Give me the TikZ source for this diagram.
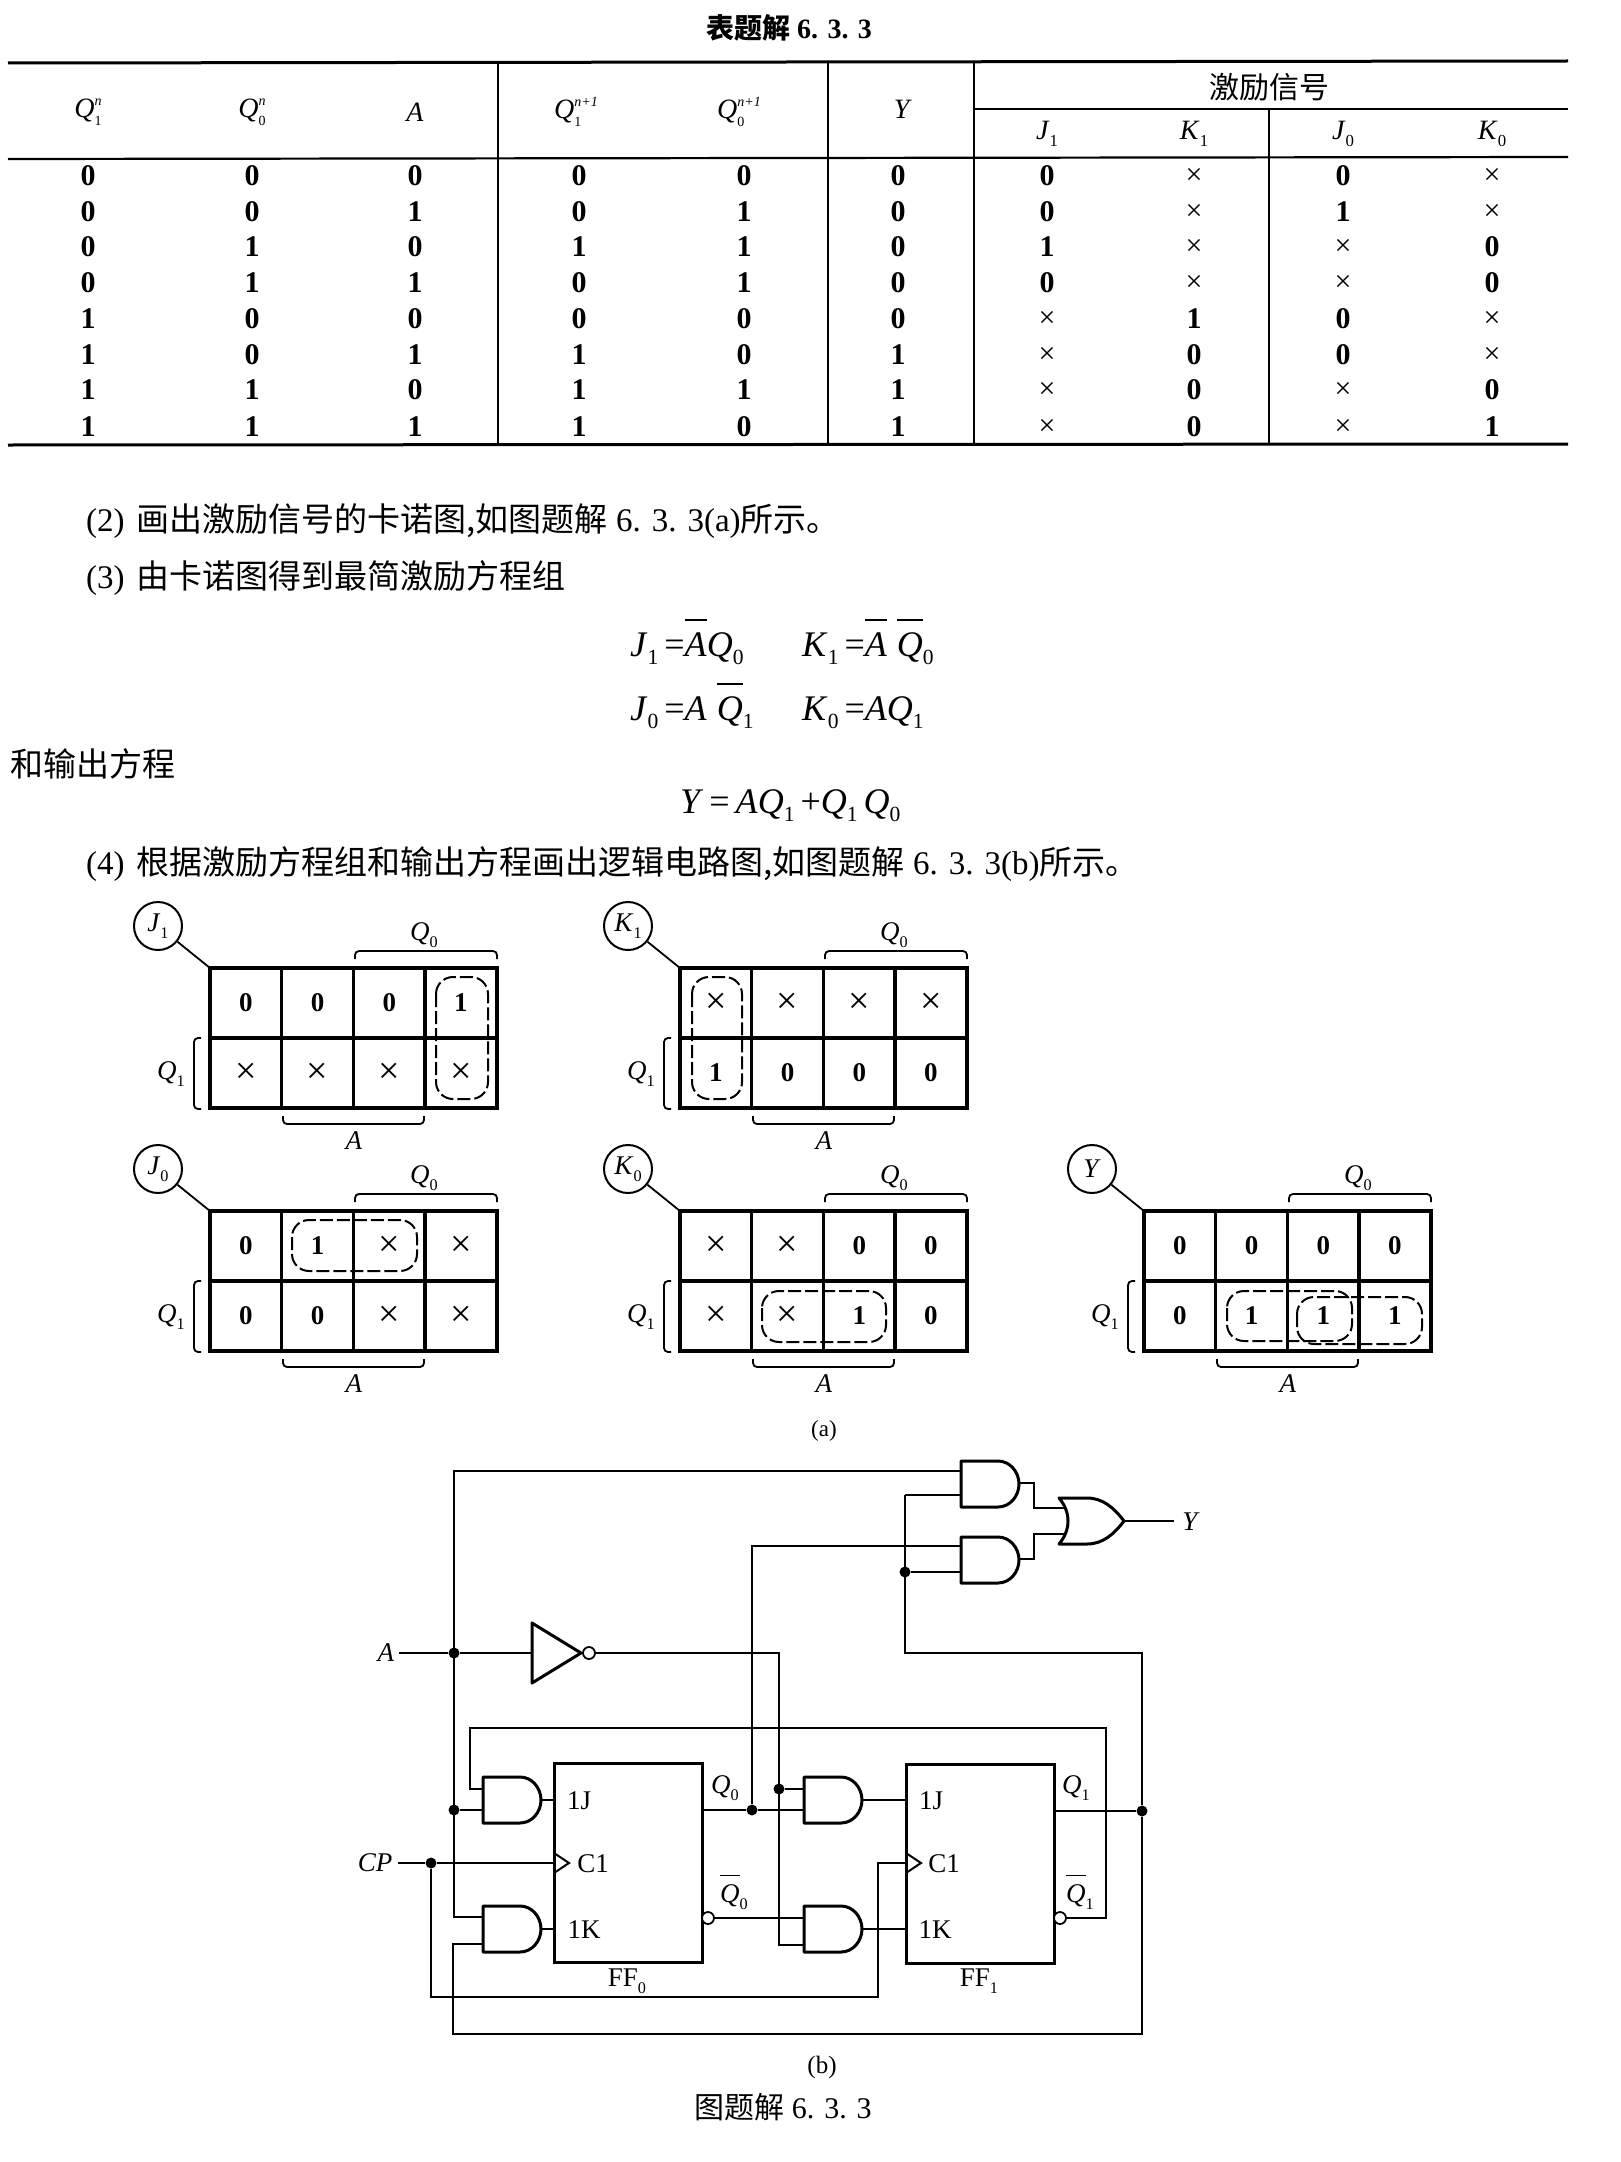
\documentclass[tikz,border=0pt]{standalone}
\usepackage{fontspec}
\usepackage{graphicx}
\setmainfont{Liberation Serif}
\newfontfamily\cjk{Noto Sans CJK SC}
\newcommand\VarSub[2]{\textit{#1}\raisebox{-.24em}{\scalebox{.6}{#2}}}
\newcommand\VarSS[3]{\textit{#1}\makebox[0pt][l]{\raisebox{.42em}{\scalebox{.5}{\textit{#3}}}}\raisebox{-.28em}{\scalebox{.5}{#2}}}
\newcommand\OLine[1]{\leavevmode\setbox0\hbox{#1}\makebox[0pt][l]{\raisebox{.98em}{\rule{\wd0}{.05em}}}\box0}
\newcommand\CellText{\if x\val\fontsize{38}{38}\selectfont ×\else\bfseries\val\fi}
\newcommand\TabText{\if x\val\fontsize{30}{30}\selectfont ×\else\fontsize{30}{30}\selectfont\bfseries\val\fi}
\tikzset{
 wire/.style={line width=1.8pt,line join=miter},
 gateline/.style={line width=3pt,line join=round},
 kgrid/.style={line width=3.4pt},
 kbrace/.style={line width=1.8pt,rounded corners=4pt},
 loopdash/.style={line width=2pt,dash pattern=on 13pt off 4pt,rounded corners=17pt},
 dotn/.style={circle,fill=black,inner sep=0pt,minimum size=11pt},
 bub/.style={circle,draw,line width=1.8pt,fill=white,inner sep=0pt,minimum size=12pt},
 ffbox/.style={rectangle,draw,line width=3pt,inner sep=0pt},
 lab/.style={inner sep=0pt,font=\fontsize{27}{30}\selectfont},
 body/.style={inner sep=0pt,font=\fontsize{33}{36}\selectfont},
 eq/.style={inner sep=0pt,font=\fontsize{36}{40}\selectfont,anchor=base west},
 thickrule/.style={line width=3pt},
 midrule/.style={line width=2.2pt},
 thinrule/.style={line width=1.3pt},
 head/.style={inner sep=0pt,font=\fontsize{28}{30}\selectfont},
}
\newcommand\AndGate[6]{%
 \draw[gateline] (#2,#3) -- (#2+37,#3) .. controls (#2+49,#3) and (#2+58,#3+11) .. (#2+58,#3+23)
   .. controls (#2+58,#3+35) and (#2+49,#3+46) .. (#2+37,#3+46) -- (#2,#3+46) -- cycle;
 \coordinate (#1-a) at (#2,#4);
 \coordinate (#1-b) at (#2,#5);
 \coordinate (#1-o) at (#2+58,#6);
}
\newcommand\Kmap[5]{%
 \draw[kgrid] (#2,#3) rectangle (#2+287,#3+140);
 \draw[kgrid] (#2,#3+70) -- (#2+287,#3+70);
 \foreach \c in {1,2,3} \draw[kgrid] (#2+71.7*\c,#3) -- (#2+71.7*\c,#3+140);
 \node[lab,circle,draw,line width=2pt,minimum size=48pt] (#1c) at (#2-52,#3-42) {#4};
 \coordinate (#1k) at (#2,#3);
 \draw[wire] (#1c) -- (#1k);
 \draw[kbrace] (#2+145,#3-9) -- (#2+145,#3-17) -- (#2+287,#3-17) -- (#2+287,#3-9);
 \node[lab] (#1q) at (#2+214,#3-33) {\VarSub{Q}{0}};
 \draw[kbrace] (#2-9,#3+70) -- (#2-16,#3+70) -- (#2-16,#3+141) -- (#2-9,#3+141);
 \node[lab] (#1p) at (#2-39,#3+106) {\VarSub{Q}{1}};
 \draw[kbrace] (#2+73,#3+148) -- (#2+73,#3+156) -- (#2+214,#3+156) -- (#2+214,#3+148);
 \node[lab] (#1a) at (#2+144,#3+173) {\textit{A}};
 \foreach \val [count=\i from 0] in {#5} {
  \pgfmathtruncatemacro\cc{mod(\i,4)}
  \pgfmathtruncatemacro\rr{int(\i/4)}
  \node[lab] (#1v\i) at (#2+35.85+71.7*\cc,#3+35+70*\rr) {\CellText};
 }
}
\begin{document}
\begin{tikzpicture}[x=1pt,y=-1pt]
\useasboundingbox (0,0) rectangle (1620,2162);
% ---------- table
\node[inner sep=0pt,font=\fontsize{28}{30}\selectfont\bfseries] (title) at (789,28) {{\cjk 表题解} 6. 3. 3};
\draw[thickrule] (8,63) -- (1568,61);
\draw[midrule] (8,159) -- (1568,157);
\draw[thickrule] (8,445) -- (1568,444);
\draw[midrule] (974,109) -- (1568,109);
\draw[thinrule] (498,63) -- (498,444);
\draw[thinrule] (828,62) -- (828,444);
\draw[thinrule] (974,62) -- (974,444);
\draw[thinrule] (1269,109) -- (1269,444);
\node[head] (h1) at (88,112) {\VarSS{Q}{1}{n}};
\node[head] (h2) at (252,112) {\VarSS{Q}{0}{n}};
\node[head] (h3) at (415,112) {\textit{A}};
\node[head,anchor=west] (h4) at (554,112) {\VarSS{Q}{1}{n+1}};
\node[head,anchor=west] (h5) at (717,112) {\VarSS{Q}{0}{n+1}};
\node[head] (h6) at (903,109) {\textit{Y}};
\node[head,font=\fontsize{30}{32}\selectfont] (h7) at (1269,87) {\cjk 激励信号};
\node[head] (h8) at (1047,134) {\VarSub{J}{1}};
\node[head] (h9) at (1194,134) {\VarSub{K}{1}};
\node[head] (h10) at (1343,134) {\VarSub{J}{0}};
\node[head] (h11) at (1492,134) {\VarSub{K}{0}};
\foreach \row [count=\r from 0] in {
 {0,0,0,0,0,0,0,x,0,x},
 {0,0,1,0,1,0,0,x,1,x},
 {0,1,0,1,1,0,1,x,x,0},
 {0,1,1,0,1,0,0,x,x,0},
 {1,0,0,0,0,0,x,1,0,x},
 {1,0,1,1,0,1,x,0,0,x},
 {1,1,0,1,1,1,x,0,x,0},
 {1,1,1,1,0,1,x,0,x,1}} {
 \foreach \val [count=\c from 0] in \row {
  \pgfmathsetmacro\cx{{88,252,415,579,744,898,1047,1194,1343,1492}[\c]}
  \pgfmathsetmacro\ry{{176,212,247,283,319,355,390,427}[\r]}
  \node[inner sep=0pt] (t\r c\c) at (\cx,\ry) {\TabText};
 }
}
% ---------- body text
\node[body,anchor=west] (l2) at (86,521) {(2)\hspace{12pt}{\cjk 画出激励信号的卡诺图,如图题解} 6. 3. 3(a){\cjk 所示。}};
\node[body,anchor=west] (l3) at (86,578) {(3)\hspace{12pt}{\cjk 由卡诺图得到最简激励方程组}};
\node[eq] (e1) at (630,656) {\VarSub{J}{1}\,=\OLine{\textit{A}}\textit{Q}\raisebox{-.24em}{\scalebox{.6}{0}}};
\node[eq] (e2) at (802,656) {\VarSub{K}{1}\,=\OLine{\textit{A}}\hspace{10pt}\OLine{\textit{Q}}\raisebox{-.24em}{\scalebox{.6}{0}}};
\node[eq] (e3) at (630,720) {\VarSub{J}{0}\,=\textit{A}\hspace{10pt}\OLine{\textit{Q}}\raisebox{-.24em}{\scalebox{.6}{1}}};
\node[eq] (e4) at (802,720) {\VarSub{K}{0}\,=\textit{A}\VarSub{Q}{1}};
\node[body,anchor=west] (l5) at (10,764) {\cjk 和输出方程};
\node[eq] (e5) at (680,813) {\textit{Y}\,=\,\textit{A}\VarSub{Q}{1}\,+\VarSub{Q}{1}\,\VarSub{Q}{0}};
\node[body,anchor=west] (l4) at (86,864) {(4)\hspace{12pt}{\cjk 根据激励方程组和输出方程画出逻辑电路图,如图题解} 6. 3. 3(b){\cjk 所示。}};
% ---------- Karnaugh maps
\Kmap{mj}{210}{968}{\VarSub{J}{1}}{0,0,0,1,x,x,x,x}
\Kmap{mk}{680}{968}{\VarSub{K}{1}}{x,x,x,x,1,0,0,0}
\Kmap{nj}{210}{1211}{\VarSub{J}{0}}{0,1,x,x,0,0,x,x}
\Kmap{nk}{680}{1211}{\VarSub{K}{0}}{x,x,0,0,x,x,1,0}
\Kmap{ny}{1144}{1211}{\textit{Y}}{0,0,0,0,0,1,1,1}
\draw[loopdash] (436,977) rectangle (488,1099);
\draw[loopdash] (692,977) rectangle (742,1099);
\draw[loopdash] (292,1220) rectangle (417,1271);
\draw[loopdash] (762,1291) rectangle (886,1342);
\draw[loopdash] (1227,1291) rectangle (1352,1341);
\draw[loopdash] (1297,1297) rectangle (1422,1344);
\node[inner sep=0pt,font=\fontsize{23}{26}\selectfont] (capa) at (824,1431) {(a)};
% ---------- circuit: gates
\AndGate{g1}{961}{1461}{1471}{1495}{1483}
\AndGate{g2}{961}{1537}{1546}{1572}{1559}
\AndGate{g3}{483}{1777}{1789}{1810}{1800}
\AndGate{g4}{483}{1906}{1917}{1944}{1929}
\AndGate{g5}{804}{1777}{1789}{1810}{1800}
\AndGate{g6}{804}{1906}{1918}{1945}{1929}
\draw[gateline] (1059,1498) -- (1087,1498) .. controls (1103,1498) and (1114,1508) .. (1124,1521)
  .. controls (1114,1534) and (1103,1544) .. (1087,1544) -- (1059,1544)
  .. controls (1071,1530) and (1071,1512) .. cycle;
\coordinate (or-a) at (1065,1508);
\coordinate (or-b) at (1065,1534);
\coordinate (or-o) at (1124,1521);
% inverter
\draw[gateline] (532,1623) -- (581,1653) -- (532,1683) -- cycle;
\coordinate (inv-i) at (532,1653);
\node[bub] (invb) at (589,1653) {};
% flip-flops
\node[ffbox,minimum width=148pt,minimum height=199pt] (ff0) at (628,1862.5) {};
\node[ffbox,minimum width=148pt,minimum height=199pt] (ff1) at (980,1863.5) {};
\draw[wire,line width=2pt] (554,1853) -- (569,1863) -- (554,1873);
\draw[wire,line width=2pt] (906,1853) -- (921,1863) -- (906,1873);
\node[bub] (nq0) at (708,1918) {};
\node[bub] (nq1) at (1060,1918) {};
\node[lab] (j0) at (579,1801) {1J};
\node[lab] (c0) at (593,1864) {C1};
\node[lab] (k0) at (584,1930) {1K};
\node[lab] (j1) at (931,1801) {1J};
\node[lab] (c1) at (944,1864) {C1};
\node[lab] (k1) at (935,1930) {1K};
\node[lab] (qa) at (725,1788) {\VarSub{Q}{0}};
\node[lab] (qb) at (734,1892) {\OLine{\textit{Q}}\raisebox{-.24em}{\scalebox{.6}{0}}};
\node[lab] (qc) at (1076,1788) {\VarSub{Q}{1}};
\node[lab] (qd) at (1080,1892) {\OLine{\textit{Q}}\raisebox{-.24em}{\scalebox{.6}{1}}};
\node[lab] (f0) at (627,1981) {FF\raisebox{-.24em}{\scalebox{.6}{0}}};
\node[lab] (f1) at (979,1981) {FF\raisebox{-.24em}{\scalebox{.6}{1}}};
% junctions
\node[dotn] (da) at (454,1653) {};
\node[dotn] (db) at (454,1810) {};
\node[dotn] (dc) at (431,1863) {};
\node[dotn] (dn) at (779,1789) {};
\node[dotn] (dq) at (752,1810) {};
\node[dotn] (dr) at (1142,1811) {};
\node[dotn] (dy) at (905,1572) {};
% labels
\node[lab] (ina) at (386,1653) {\textit{A}};
\node[lab] (incp) at (375,1863) {\textit{CP}};
\node[lab] (outy) at (1191,1522) {\textit{Y}};
% coordinates
\coordinate (aend) at (399,1653);
\coordinate (cpend) at (398,1863);
\coordinate (yend) at (1174,1521);
\coordinate (atop) at (454,1471);
\coordinate (abot) at (454,1917);
\coordinate (fb1) at (1106,1918);
\coordinate (fb2) at (1106,1728);
\coordinate (fb3) at (470,1728);
\coordinate (fb4) at (470,1789);
\coordinate (bus1) at (779,1653);
\coordinate (bus2) at (779,1945);
\coordinate (q0up) at (752,1546);
\coordinate (q1a) at (1142,1653);
\coordinate (q1b) at (905,1653);
\coordinate (q1c) at (905,1495);
\coordinate (q1d) at (1142,2034);
\coordinate (q1e) at (453,2034);
\coordinate (q1f) at (453,1944);
\coordinate (cpa) at (431,1997);
\coordinate (cpb) at (878,1997);
\coordinate (cpc) at (878,1863);
\coordinate (cpd) at (905,1863);
\coordinate (cpe) at (554,1863);
\coordinate (mo1) at (1034,1483);
\coordinate (mo2) at (1034,1508);
\coordinate (mo3) at (1034,1559);
\coordinate (mo4) at (1034,1534);
\coordinate (f0j) at (554,1800);
\coordinate (f0k) at (554,1929);
\coordinate (f1j) at (905,1800);
\coordinate (f1k) at (905,1929);
\coordinate (f0q) at (702,1810);
\coordinate (f1q) at (1054,1811);
% wires
\draw[wire] (aend) -- (da) -- (inv-i);
\draw[wire] (g1-a) -- (atop) -- (abot) -- (g4-a);
\draw[wire] (db) -- (g3-b);
\draw[wire] (invb) -- (bus1) -- (bus2) -- (g6-b);
\draw[wire] (dn) -- (g5-a);
\draw[wire] (nq1) -- (fb1) -- (fb2) -- (fb3) -- (fb4) -- (g3-a);
\draw[wire] (f0q) -- (dq) -- (g5-b);
\draw[wire] (dq) -- (q0up) -- (g2-a);
\draw[wire] (nq0) -- (g6-a);
\draw[wire] (f1q) -- (dr);
\draw[wire] (q1c) -- (g1-b);
\draw[wire] (dy) -- (g2-b);
\draw[wire] (dr) -- (q1a) -- (q1b) -- (q1c);
\draw[wire] (dr) -- (q1d) -- (q1e) -- (q1f) -- (g4-b);
\draw[wire] (cpend) -- (dc) -- (cpe);
\draw[wire] (dc) -- (cpa) -- (cpb) -- (cpc) -- (cpd);
\draw[wire] (g1-o) -- (mo1) -- (mo2) -- (or-a);
\draw[wire] (g2-o) -- (mo3) -- (mo4) -- (or-b);
\draw[wire] (or-o) -- (yend);
\draw[wire] (g3-o) -- (f0j);
\draw[wire] (g4-o) -- (f0k);
\draw[wire] (g5-o) -- (f1j);
\draw[wire] (g6-o) -- (f1k);
% captions
\node[inner sep=0pt,font=\fontsize{25}{28}\selectfont] (capb) at (822,2067) {(b)};
\node[inner sep=0pt,font=\fontsize{30}{32}\selectfont] (capc) at (783,2107) {{\cjk 图题解} 6. 3. 3};
\end{tikzpicture}
\end{document}
